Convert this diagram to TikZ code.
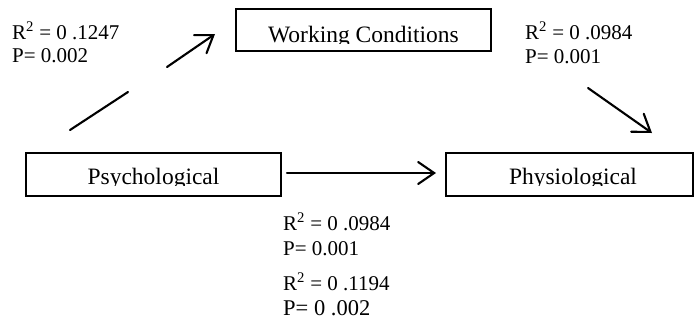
\documentclass[tikz,border=0pt]{standalone}
\usepackage{fontspec}
\setmainfont{Liberation Serif}
\usetikzlibrary{arrows.meta}
\begin{document}
\begin{tikzpicture}[x=1pt,y=-1pt,
  boxnode/.style={draw, line width=2pt, inner sep=0pt},
  boxtext/.style={anchor=base, inner sep=0pt, font=\fontsize{23.5}{26}\selectfont},
  lbl/.style={anchor=base west, inner sep=0pt, font=\fontsize{21}{23}\selectfont},
  lblbig/.style={anchor=base west, inner sep=0pt, font=\fontsize{22.5}{25}\selectfont},
  conn/.style={line width=2.1pt, line cap=round},
  arr/.style={conn, -{Straight Barb[length=16pt,width=22pt,line cap=round]}}]
\useasboundingbox (0,0) rectangle (695,333);
% boxes
\node[boxnode, minimum width=255pt, minimum height=42pt] (wc) at (363.5,30) {};
\node[boxnode, minimum width=255pt, minimum height=43pt] (psy) at (153.5,174.5) {};
\node[boxnode, minimum width=247pt, minimum height=43pt] (phy) at (569.5,174.5) {};
% clipped box texts
\begin{scope}
  \clip (237,10) rectangle (490,43.3);
  \node[boxtext] (wct) at (363.5,42) {Working Conditions};
\end{scope}
\begin{scope}
  \clip (27,154) rectangle (280,185.8);
  \node[boxtext] (psyt) at (153.5,184.5) {Psychological};
\end{scope}
\begin{scope}
  \clip (447,154) rectangle (692,185.8);
  \node[boxtext] (phyt) at (573,184.5) {Physiological};
\end{scope}
% connectors
\coordinate (a1s) at (70,130);
\coordinate (a1m) at (128,92);
\coordinate (a1n) at (167,67);
\coordinate (a1e) at (215,34);
\draw[conn] (a1s) -- (a1m);
\draw[arr] (a1n) -- (a1e);
\coordinate (a2s) at (588,88);
\coordinate (a2e) at (652,133);
\draw[arr] (a2s) -- (a2e);
\coordinate (a3s) at (287,173);
\coordinate (a3e) at (436,173);
\draw[arr] (a3s) -- (a3e);
% labels
\node[lbl] (l1a) at (12,39) {R\textsuperscript{2} = 0 .1247};
\node[lbl] (l1b) at (12,62) {P= 0.002};
\node[lbl] (l2a) at (525,39) {R\textsuperscript{2} = 0 .0984};
\node[lbl] (l2b) at (525,63) {P= 0.001};
\node[lbl] (l3a) at (283,230) {R\textsuperscript{2} = 0 .0984};
\node[lbl] (l3b) at (283,255) {P= 0.001};
\node[lbl] (l4a) at (283,290) {R\textsuperscript{2} = 0 .1194};
\node[lblbig] (l4b) at (283,315) {P= 0 .002};
\end{tikzpicture}
\end{document}
